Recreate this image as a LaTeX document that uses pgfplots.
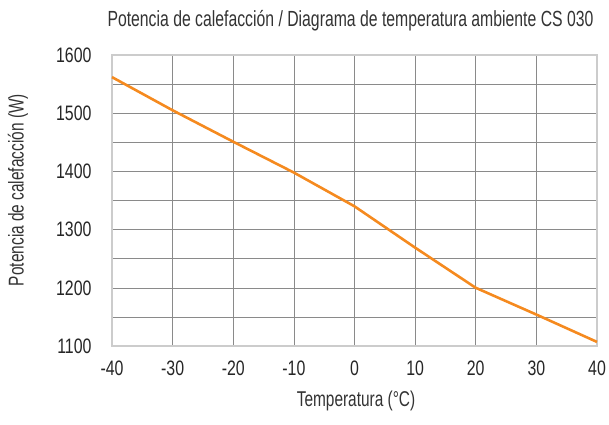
\documentclass[border=0pt]{standalone}
\usepackage{pgfplots}
\pgfplotsset{compat=1.18}
\usepackage{fontspec}
\setmainfont{Liberation Sans}[FakeStretch=0.76]
\newfontfamily\titlefont{Liberation Sans}[FakeStretch=0.72]
\definecolor{lineor}{HTML}{F58A1F}
\definecolor{gridc}{HTML}{8A8A8A}
\begin{document}
\begin{tikzpicture}
\useasboundingbox (-112bp,-79bp) rectangle (497bp,346bp);
\begin{axis}[
  at={(0,0)}, anchor=south west,
  scale only axis, width=485bp, height=291bp,
  xmin=-40, xmax=40, ymin=1100, ymax=1600,
  xtick={-40,-30,...,40}, ytick={1100,1200,...,1600},
  minor ytick={1150,1250,...,1550},
  grid=both,
  major grid style={gridc, line width=0.6pt},
  minor grid style={gridc, line width=0.6pt},
  axis line style={black!20, line width=1.2pt},
  major tick length=0pt, minor tick length=0pt,
  /pgf/number format/assume math mode=true,
  /pgf/number format/set thousands separator={},
  ticklabel style={font=\fontsize{21}{23}\selectfont, text=black!85},
  xticklabel style={yshift=-11bp},
  yticklabel style={xshift=-17bp},
  clip=false,
]
\addplot[lineor, line width=2.6pt, line join=round] coordinates {
  (-40,1562) (-30,1505) (-20,1451) (-10,1398) (0,1340) (10,1269) (20,1200) (30,1154) (40,1107)
};
\end{axis}
\node[anchor=base east, font=\titlefont\fontsize{22}{24}\selectfont, text=black!80] at (485bp,319bp) {Potencia de calefacción / Diagrama de temperatura ambiente CS 030};
\node[rotate=90, font=\titlefont\fontsize{21.5}{24}\selectfont, text=black!80] at (-94bp,156bp) {Potencia de calefacción (W)};
\node[font=\titlefont\fontsize{21.5}{24}\selectfont, text=black!80] at (244bp,-55bp) {Temperatura (°C)};
\end{tikzpicture}
\end{document}
